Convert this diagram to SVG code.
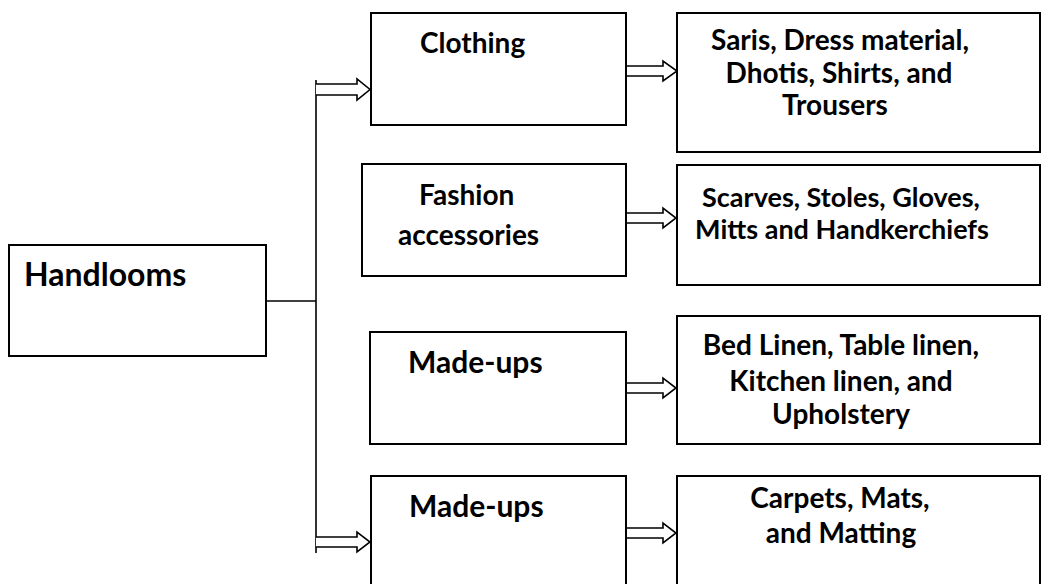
<svg xmlns="http://www.w3.org/2000/svg" width="1045" height="584" viewBox="0 0 1045 584">
<style>
.box{fill:#fff;stroke:#000;stroke-width:2}
.t{font-family:Lato,"Open Sans","Liberation Sans",sans-serif;font-weight:bold;font-size:28px;fill:#000}
.c{text-anchor:middle}
.big{font-size:32px}
.mu{font-size:30px}
.sm{font-size:27px}
.ln{stroke:#000;stroke-width:1.6;fill:none}
.arr{fill:#fff;stroke:#000;stroke-width:1.6;stroke-linejoin:miter}
</style>
<rect width="1045" height="584" fill="#fff"/>
<g id="connectors">
<line class="ln" x1="266" y1="301" x2="316" y2="301"/>
<line class="ln" x1="316" y1="80" x2="316" y2="553"/>
<path class="arr" d="M316,84 H357 V79 L370,89.5 L357,100 V95 H316"/>
<path class="arr" d="M316,537 H357 V532 L370,542 L357,552 V547 H316"/>
<path class="arr" d="M626,66 H663 V61 L677,71 L663,81 V76 H626"/>
<path class="arr" d="M626,213 H663 V208 L676,218 L663,228 V223 H626"/>
<path class="arr" d="M626,383 H663 V378 L676,388 L663,398 V393 H626"/>
<path class="arr" d="M626,528 H663 V523 L676,533 L663,543 V538 H626"/>
</g>
<g id="handlooms">
<rect class="box" x="9" y="245" width="257" height="111"/>
<text class="t big" x="24" y="286">Handlooms</text>
</g>
<g id="clothing">
<rect class="box" x="371" y="13" width="255" height="112"/>
<text class="t" x="420" y="53">Clothing</text>
</g>
<g id="fashion">
<rect class="box" x="362" y="164" width="264" height="112"/>
<text class="t" x="419" y="205">Fashion</text>
<text class="t" x="398" y="245">accessories</text>
</g>
<g id="madeups1">
<rect class="box" x="370" y="332" width="256" height="112"/>
<text class="t mu" x="408" y="373">Made-ups</text>
</g>
<g id="madeups2">
<rect class="box" x="371" y="476" width="255" height="120"/>
<text class="t mu" x="409" y="517">Made-ups</text>
</g>
<g id="clothing-items">
<rect class="box" x="677" y="13" width="363" height="139"/>
<text class="t c" x="840" y="50">Saris, Dress material,</text>
<text class="t c" x="839" y="83">Dhotis, Shirts, and</text>
<text class="t c" x="835" y="115">Trousers</text>
</g>
<g id="fashion-items">
<rect class="box" x="677" y="165" width="363" height="120"/>
<text class="t c sm" x="841" y="207">Scarves, Stoles, Gloves,</text>
<text class="t c sm" x="842" y="239">Mitts and Handkerchiefs</text>
</g>
<g id="madeups1-items">
<rect class="box" x="677" y="316" width="363" height="128"/>
<text class="t c" x="841" y="355">Bed Linen, Table linen,</text>
<text class="t c" x="841" y="391">Kitchen linen, and</text>
<text class="t c" x="841" y="424">Upholstery</text>
</g>
<g id="madeups2-items">
<rect class="box" x="677" y="476" width="363" height="120"/>
<text class="t c" x="840" y="508">Carpets, Mats,</text>
<text class="t c" x="841" y="543">and Matting</text>
</g>
</svg>
